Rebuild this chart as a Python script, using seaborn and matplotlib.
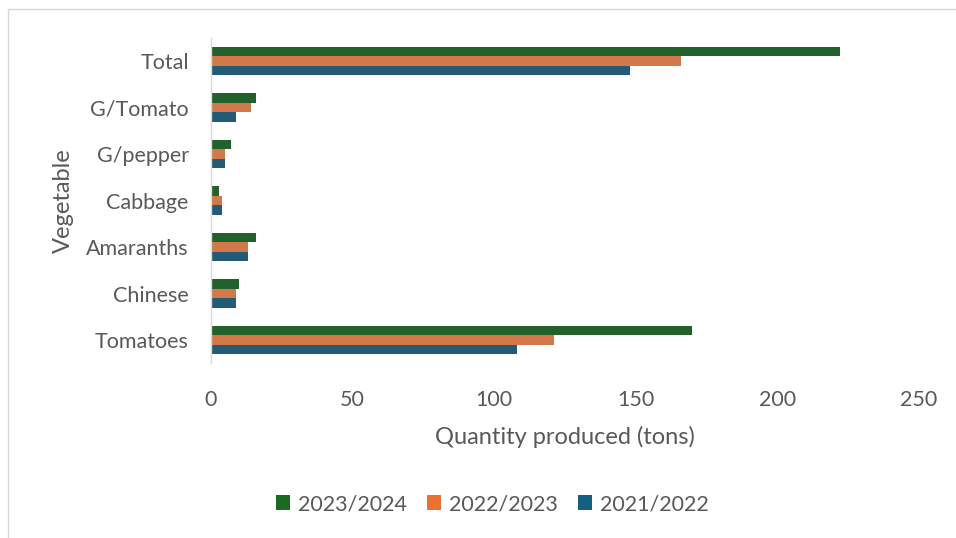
import matplotlib
matplotlib.use("Agg")
import matplotlib.pyplot as plt
import seaborn as sns
import pandas as pd
from matplotlib.patches import Rectangle, Patch

vegetables = ["Total", "G/Tomato", "G/pepper", "Cabbage", "Amaranths", "Chinese", "Tomatoes"]
seasons = ["2023/2024", "2022/2023", "2021/2022"]
qty_2023_2024 = [222, 16, 7, 3, 16, 10, 170]
qty_2022_2023 = [166, 14, 5, 4, 13, 9, 121]
qty_2021_2022 = [148, 9, 5, 4, 13, 9, 108]
season_colors = ["#196B24", "#E97132", "#156082"]

frames = []
for season, values in zip(seasons, [qty_2023_2024, qty_2022_2023, qty_2021_2022]):
    frames.append(pd.DataFrame({"Vegetable": vegetables, "Season": season, "Quantity": values}))
df = pd.concat(frames, ignore_index=True)

sns.set_theme(style="white")
plt.rcParams["font.family"] = ["Lato", "DejaVu Sans"]

text_color = "#595959"
fig = plt.figure(figsize=(9.56, 5.38), dpi=100)
ax = fig.add_axes([0.2207, 0.3248, 0.9613 - 0.2207, 0.9298 - 0.3248])

sns.barplot(data=df, y="Vegetable", x="Quantity", hue="Season",
            order=vegetables, hue_order=seasons, palette=season_colors,
            orient="h", width=0.62, gap=0, linewidth=0, errorbar=None,
            legend=False, ax=ax)

ax.set_xlim(0, 250)
ax.set_xticks([0, 50, 100, 150, 200, 250])
ax.tick_params(axis="both", length=0, labelsize=15.5, labelcolor=text_color)
ax.tick_params(axis="y", pad=16)
ax.tick_params(axis="x", pad=19)
for side in ["top", "right", "bottom"]:
    ax.spines[side].set_visible(False)
ax.spines["left"].set_color("#D9D9D9")
ax.spines["left"].set_linewidth(1.0)
ax.grid(False)

ax.set_xlabel("Quantity produced (tons)", fontsize=17, color=text_color, labelpad=12)
ax.set_ylabel("Vegetable", fontsize=17, color=text_color, labelpad=9)

handles = [Patch(facecolor=c, edgecolor="none") for c in season_colors]
fig.legend(handles, seasons, loc="center", bbox_to_anchor=(0.515, 0.063), ncol=3,
           frameon=False, fontsize=15.5, labelcolor=text_color,
           handlelength=0.65, handleheight=0.65, handletextpad=0.35, columnspacing=0.95)

# chart-area border
fig.patches.append(Rectangle((7.5 / 956, -0.1), 1.2, (538 - 9.5) / 538 + 0.1,
                             transform=fig.transFigure, fill=False,
                             edgecolor="#D9D9D9", linewidth=1.0))

fig.savefig("out.png", dpi=100, facecolor="white")
